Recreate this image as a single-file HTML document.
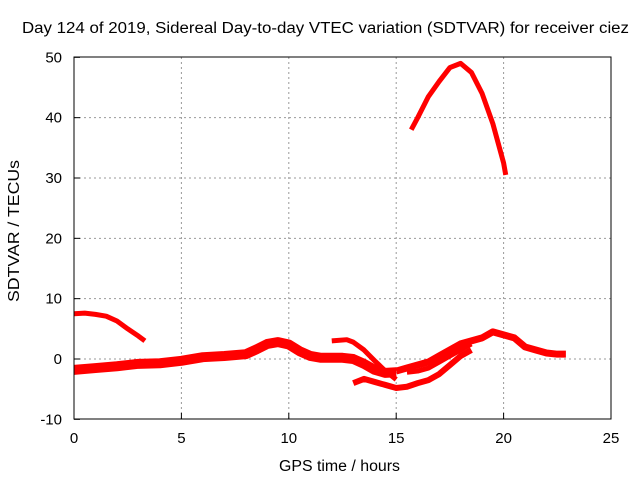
<!DOCTYPE html>
<html><head><meta charset="utf-8"><style>
body{margin:0;background:#fff;}
svg{display:block;font-family:"Liberation Sans",sans-serif;}
</style></head><body>
<svg width="640" height="480" id="chart">
<rect width="640" height="480" fill="#fff"/>
<text x="22" y="33" font-size="15.5" textLength="607" lengthAdjust="spacingAndGlyphs">Day 124 of 2019, Sidereal Day-to-day VTEC variation (SDTVAR) for receiver ciez</text>
<text x="279" y="471" font-size="15.5" textLength="121" lengthAdjust="spacingAndGlyphs">GPS time / hours</text>
<text transform="translate(19,302) rotate(-90)" font-size="15.5" textLength="142" lengthAdjust="spacingAndGlyphs">SDTVAR / TECUs</text>
<g id="grid"></g><g id="marks"></g>
<rect x="74" y="57" width="537" height="362" fill="none" stroke="#000"/>
</svg>
<script>
const xTicks=[0,5,10,15,20,25];
const yTicks=[-10,0,10,20,30,40,50];
const seriesA=[[0,7.5],[0.5,7.6],[1,7.4],[1.5,7.1],[2,6.3],[2.5,5],[3,3.8],[3.3,3.0]];
const seriesB=[[0,-1.8],[1,-1.5],[2,-1.2],[3,-0.8],[4,-0.7],[5,-0.3],[6,0.3],[7,0.5],[8,0.8],[8.5,1.6],[9,2.5],[9.5,2.8],[10,2.4],[10.5,1.3],[11,0.5],[11.5,0.2],[12,0.2],[12.5,0.2],[13,0],[13.5,-0.8],[14,-1.8],[14.5,-2.3],[15,-2.2]];
const seriesC=[[12,3.0],[12.7,3.2],[13,2.8],[13.5,1.5],[14,-0.3],[14.5,-2],[15,-3.4]];
const seriesD=[[13,-4],[13.5,-3.3],[14,-3.8],[14.5,-4.3],[15,-4.8],[15.5,-4.6],[16,-4],[16.5,-3.5],[17,-2.5],[17.5,-1],[18,0.5],[18.5,1.5]];
const seriesE=[[15,-2],[15.5,-1.5],[16,-1],[16.5,-0.5],[17,0.5],[17.5,1.5],[18,2.5],[18.5,3],[19,3.5],[19.5,4.5],[20,4],[20.5,3.5],[21,2],[21.5,1.5],[22,1],[22.5,0.8],[22.9,0.8]];
const seriesF=[[15.5,-2.2],[16,-2],[16.5,-1.5],[17,-0.5],[17.5,0.5],[18,1.5],[18.5,2.5]];
const seriesG=[[15.7,38],[16,40],[16.5,43.5],[17,46],[17.5,48.3],[18,49],[18.5,47.5],[19,44],[19.5,39],[20,32.5],[20.1,30.5]];
const widths=[5,10,5,6,7,5,5];
const X=v=>74+v*537/25, Y=v=>359-v*362/60;
const ns="http://www.w3.org/2000/svg";
const grid=document.getElementById('grid'), marks=document.getElementById('marks');
function mk(tag,attrs,parent){const e=document.createElementNS(ns,tag);for(const k in attrs)e.setAttribute(k,attrs[k]);parent.appendChild(e);return e;}
xTicks.forEach(t=>{
 if(t>0&&t<25){const l=mk('line',{x1:X(t),x2:X(t),y1:57,y2:419,stroke:'#999','stroke-dasharray':'2,3'},grid);
 
 }
 const tx=mk('text',{x:X(t),y:443,'font-size':15,'text-anchor':'middle'},grid);tx.textContent=t;
 
 
 mk('line',{x1:X(t),x2:X(t),y1:419,y2:413,stroke:'#000'},grid);
});
yTicks.forEach(t=>{
 if(t>-10&&t<50){const l=mk('line',{x1:74,x2:611,y1:Y(t),y2:Y(t),stroke:'#999','stroke-dasharray':'2,3'},grid);
 
 }
 const tx=mk('text',{x:62,y:Y(t)+5,'font-size':15,'text-anchor':'end'},grid);tx.textContent=t;
 
 
 mk('line',{x1:74,x2:80,y1:Y(t),y2:Y(t),stroke:'#000'},grid);
});
[seriesA,seriesB,seriesC,seriesD,seriesE,seriesF,seriesG].forEach((s,i)=>{
 const p=mk('polyline',{points:s.map(d=>X(d[0])+','+Y(d[1])).join(' '),fill:'none',stroke:'#f00','stroke-width':widths[i],'stroke-linejoin':'round'},marks);
 
 
});
</script>
</body></html>
